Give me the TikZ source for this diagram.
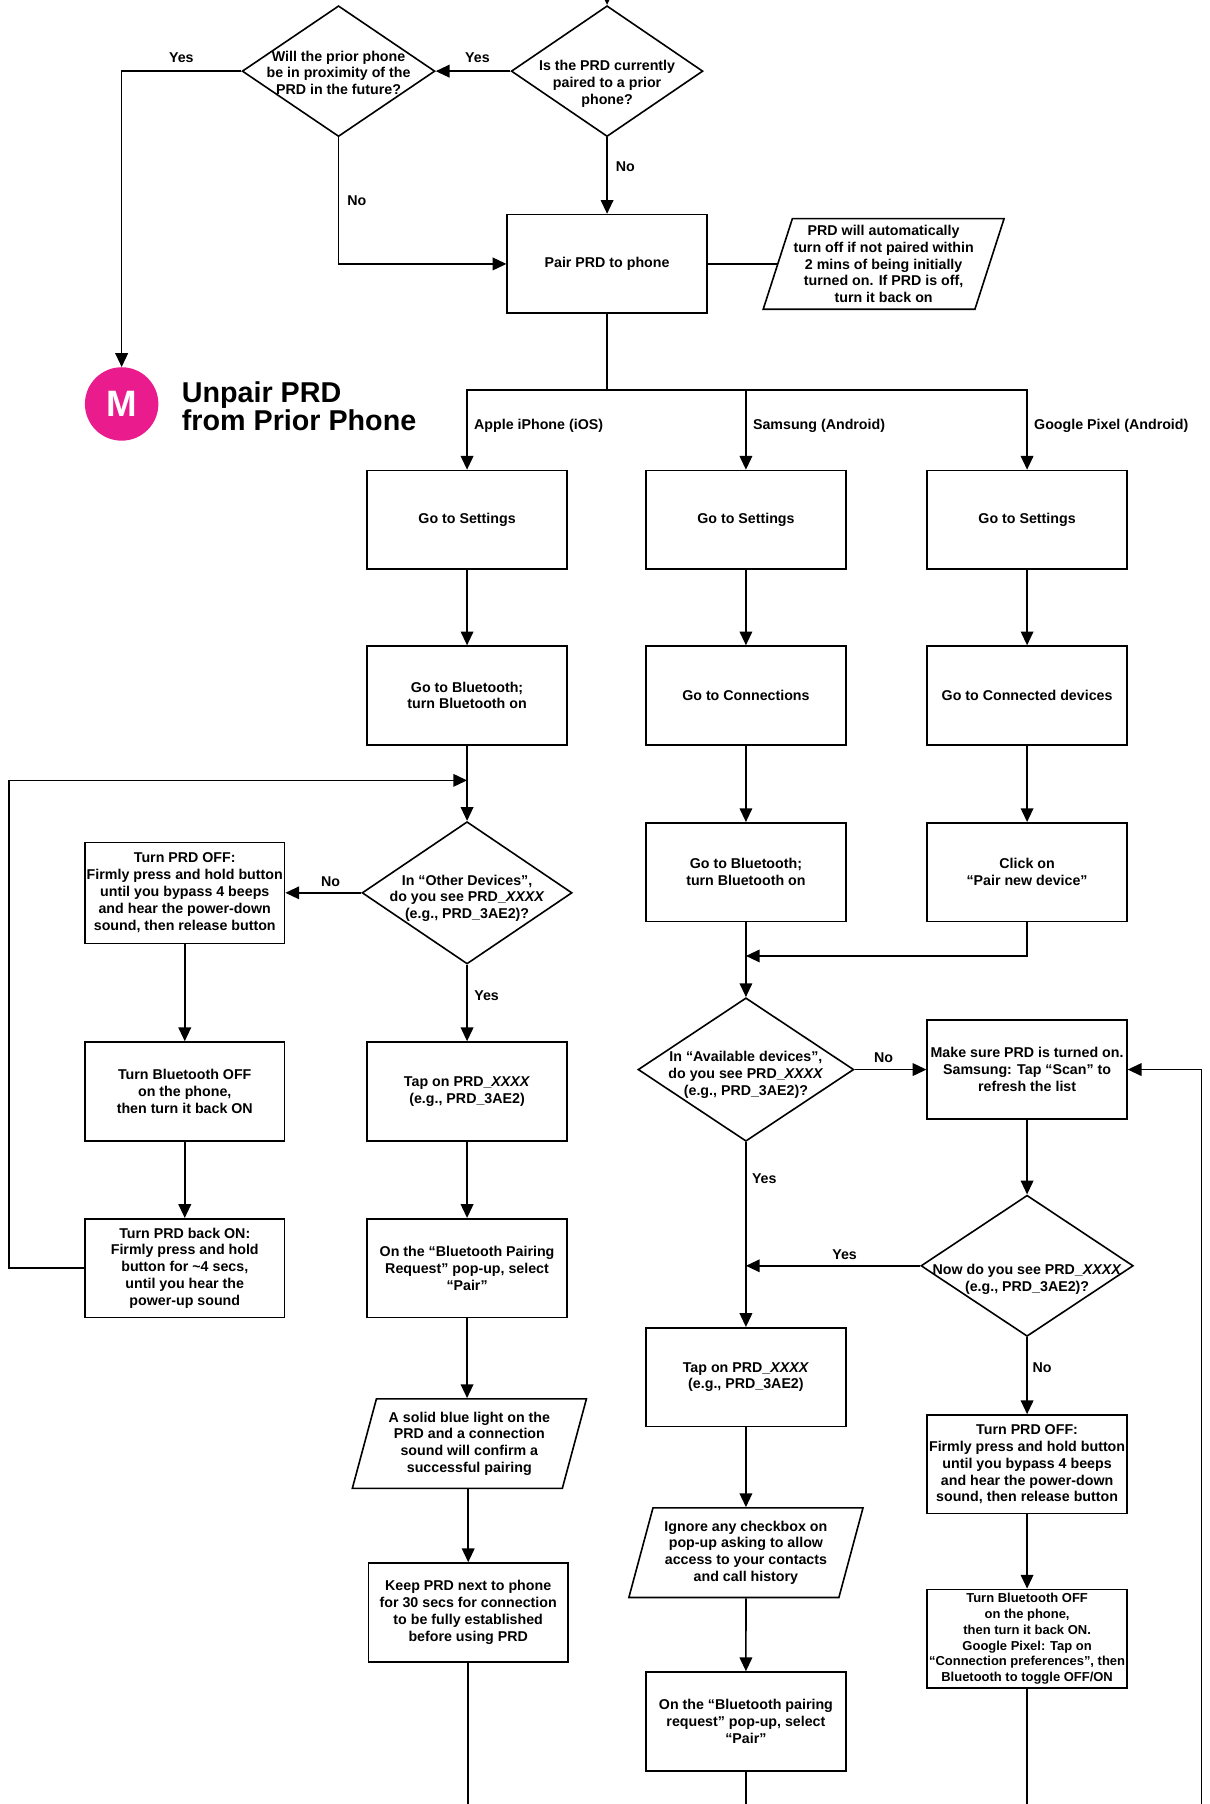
\documentclass[tikz,border=0pt]{standalone}
\usepackage{fontspec}
\setmainfont{Liberation Sans}
\usetikzlibrary{shapes.geometric,arrows.meta,positioning}
\definecolor{badgepink}{RGB}{234,28,141}
\newcommand{\qtxt}[2][-8pt]{\makebox[0pt]{\smash{\raisebox{#1}{\begin{tabular}{@{}c@{}}#2\end{tabular}}}}}
\newcommand{\prdx}{PRD\_\textit{XXXX}}
\tikzset{
  txt/.style={font=\fontsize{12.4}{14.7}\selectfont\bfseries, align=center},
  stepbox/.style={txt, draw, line width=1.4pt, minimum width=174pt, minimum height=86pt, inner sep=1pt},
  query/.style={txt, draw, diamond, line width=1.4pt, inner sep=0pt},
  iobox/.style={txt, draw, trapezium, trapezium left angle=70, trapezium right angle=110,
    trapezium stretches body, line width=1.4pt, minimum width=204pt, minimum height=78pt, inner sep=1pt},
  tag/.style={txt, inner sep=1pt},
  flow/.style={line width=1.4pt, -{Triangle[length=12pt,width=11pt]}},
  link/.style={line width=1.4pt},
}
\begin{document}
\begin{tikzpicture}[x=1pt,y=-1pt]
\useasboundingbox (0,0) rectangle (1054,1572);

% top decisions
\node[query, minimum width=167pt, minimum height=114pt] (paired) at (529,62)
  {\qtxt[-14pt]{Is the PRD currently\\paired to a prior\\phone?}};
\node[query, minimum width=168pt, minimum height=114pt] (proximity) at (295,62)
  {\qtxt[-6pt]{Will the prior phone\\be in proximity of the\\PRD in the future?}};
\node[stepbox] (pairbox) at (529,230) {Pair PRD to phone};
\node[iobox, minimum width=205pt, minimum height=79pt] (notice) at (770,230)
  {PRD will automatically\\turn off if not paired within\\2 mins of being initially\\turned on. If PRD is off,\\turn it back on};
\node[circle, fill=badgepink, minimum size=64pt, inner sep=0pt, text=white,
  font=\fontsize{32}{32}\selectfont\bfseries] (unpairM) at (106,352) {M};
\node[anchor=west, align=left, font=\fontsize{25}{24}\selectfont\bfseries] (unpairtitle) at (155,354)
  {Unpair PRD\\from Prior Phone};

\coordinate (entry) at (529,-25);
\coordinate (split) at (529,340);

% Apple iPhone
\node[stepbox] (ios1) at (407,453) {Go to Settings};
\node[stepbox] (ios2) at (407,606) {Go to Bluetooth;\\turn Bluetooth on};
\node[query, minimum width=183pt, minimum height=124pt] (iosq) at (407,778)
  {\qtxt{In “Other Devices”,\\do you see \prdx\\(e.g., PRD\_3AE2)?}};
\node[stepbox] (iostap) at (407,951) {Tap on \prdx\\(e.g., PRD\_3AE2)};
\node[stepbox] (iospop) at (407,1105) {On the “Bluetooth Pairing\\Request” pop-up, select\\“Pair”};
\node[iobox] (ioslight) at (409,1258)
  {A solid blue light on the\\PRD and a connection\\sound will confirm a\\successful pairing};
\node[stepbox] (ioskeep) at (408,1405)
  {Keep PRD next to phone\\for 30 secs for connection\\to be fully established\\before using PRD};
\coordinate (iosmerge) at (407,680);
\coordinate (iosexit) at (408,1600);

% retry loop
\node[stepbox, minimum height=88pt] (off) at (161,778)
  {Turn PRD OFF:\\Firmly press and hold button\\until you bypass 4 beeps\\and hear the power-down\\sound, then release button};
\node[stepbox] (bt) at (161,951) {Turn Bluetooth OFF\\on the phone,\\then turn it back ON};
\node[stepbox] (on) at (161,1105)
  {Turn PRD back ON:\\Firmly press and hold\\button for \textasciitilde4 secs,\\until you hear the\\power-up sound};
\coordinate (loopx) at (8,0);

% Samsung
\node[stepbox] (sam1) at (650,453) {Go to Settings};
\node[stepbox] (sam2) at (650,606) {Go to Connections};
\node[stepbox] (sam3) at (650,760) {Go to Bluetooth;\\turn Bluetooth on};
\node[query, minimum width=188pt, minimum height=125pt] (samq) at (650,932)
  {\qtxt{In “Available devices”,\\do you see \prdx\\(e.g., PRD\_3AE2)?}};
\node[stepbox] (samtap) at (650,1200) {Tap on \prdx\\(e.g., PRD\_3AE2)};
\node[iobox] (samignore) at (650,1353)
  {Ignore any checkbox on\\pop-up asking to allow\\access to your contacts\\and call history};
\node[stepbox] (sampop) at (650,1500) {On the “Bluetooth pairing\\request” pop-up, select\\“Pair”};
\coordinate (sammerge) at (650,833);
\coordinate (samexit) at (650,1600);

% Google Pixel
\node[stepbox] (pix1) at (895,453) {Go to Settings};
\node[stepbox] (pix2) at (895,606) {Go to Connected devices};
\node[stepbox] (pix3) at (895,760) {Click on\\“Pair new device”};
\node[stepbox] (scan) at (895,932) {Make sure PRD is turned on.\\Samsung: Tap “Scan” to\\refresh the list};
\node[query, minimum width=185pt, minimum height=123pt] (nowq) at (895,1103)
  {\qtxt[-15pt]{Now do you see \prdx\\(e.g., PRD\_3AE2)?}};
\node[stepbox] (pixoff) at (895,1276)
  {Turn PRD OFF:\\Firmly press and hold button\\until you bypass 4 beeps\\and hear the power-down\\sound, then release button};
\node[stepbox, font=\fontsize{11.3}{13.8}\selectfont\bfseries] (pixbt) at (895,1428)
  {Turn Bluetooth OFF\\on the phone,\\then turn it back ON.\\Google Pixel: Tap on\\“Connection preferences”, then\\Bluetooth to toggle OFF/ON};
\coordinate (pixexit) at (895,1600);
\coordinate (rescan) at (1047,1600);

% labels
\node[tag] (yes1) at (416,50) {Yes};
\node[tag] (yes2) at (158,50) {Yes};
\node[tag] (no1) at (311,175) {No};
\node[tag] (no2) at (545,145) {No};
\node[tag, anchor=west] (lbios) at (412,371) {Apple iPhone (iOS)};
\node[tag, anchor=west] (lbsam) at (655,371) {Samsung (Android)};
\node[tag, anchor=west] (lbpix) at (900,371) {Google Pixel (Android)};
\node[tag] (no3) at (288,768) {No};
\node[tag] (yes3) at (424,868) {Yes};
\node[tag] (no4) at (770,922) {No};
\node[tag] (yes4) at (666,1027) {Yes};
\node[tag] (yes5) at (736,1093) {Yes};
\node[tag] (no5) at (908,1192) {No};

% connectors
\draw[flow] (entry) -- (paired.north);
\draw[flow] (paired.west) -- (proximity.east);
\draw[flow] (proximity.west) -| (unpairM.north);
\draw[flow] (proximity.south) |- (pairbox.west);
\draw[flow] (paired.south) -- (pairbox.north);
\draw[link] (pairbox.east) -- (notice.west);
\draw[link] (pairbox.south) -- (split);
\draw[flow] (split) -| (ios1.north);
\draw[flow] (split) -| (sam1.north);
\draw[flow] (split) -| (pix1.north);

\draw[flow] (ios1) -- (ios2);
\draw[flow] (ios2) -- (iosq);
\draw[flow] (iosq.west) -- (off.east);
\draw[flow] (off) -- (bt);
\draw[flow] (bt) -- (on);
\draw[flow] (on.west) -- (on.west -| loopx) |- (iosmerge);
\draw[flow] (iosq.south) -- (iostap.north);
\draw[flow] (iostap) -- (iospop);
\draw[flow] (iospop.south) -- (ioslight.north -| iospop.south);
\draw[flow] (ioslight.south -| ioskeep.north) -- (ioskeep.north);
\draw[link] (ioskeep.south) -- (iosexit);

\draw[flow] (sam1) -- (sam2);
\draw[flow] (sam2) -- (sam3);
\draw[flow] (sam3) -- (samq);
\draw[flow] (pix3.south) |- (sammerge);
\draw[flow] (samq.east) -- (scan.west);
\draw[flow] (samq.south) -- (samtap.north);
\draw[flow] (nowq.west) -- (nowq.west -| samtap.north);
\draw[flow] (samtap) -- (samignore);
\draw[flow] (samignore) -- (sampop);
\draw[link] (sampop.south) -- (samexit);

\draw[flow] (pix1) -- (pix2);
\draw[flow] (pix2) -- (pix3);
\draw[flow] (scan) -- (nowq);
\draw[flow] (nowq.south) -- (pixoff.north);
\draw[flow] (pixoff) -- (pixbt);
\draw[link] (pixbt.south) -- (pixexit);
\draw[flow] (rescan) |- (scan.east);
\end{tikzpicture}
\end{document}
